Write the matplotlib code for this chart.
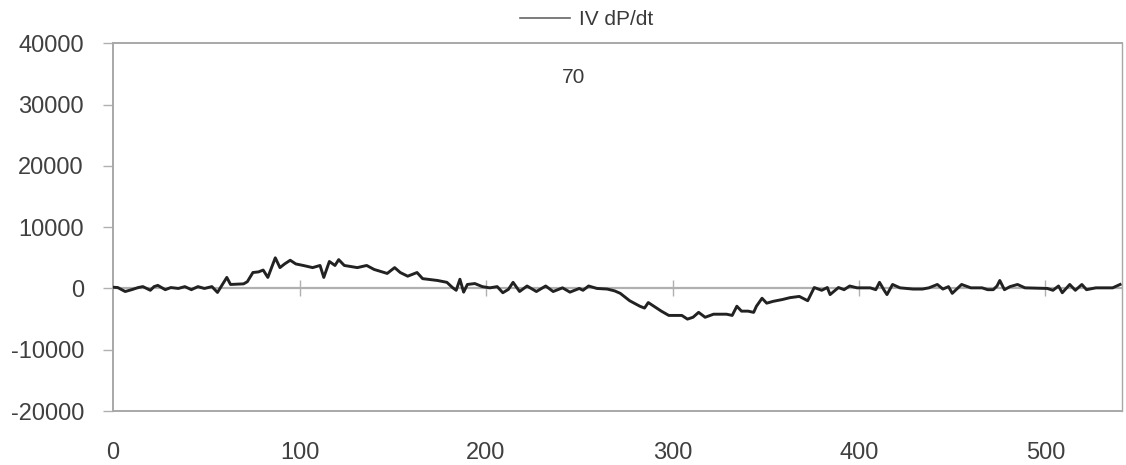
import numpy as np
import matplotlib
matplotlib.use("Agg")
import matplotlib.pyplot as plt

# Sample index and IV dP/dt values
x_vals = [0, 2.5, 6.5, 10, 13.5, 16, 20, 22, 24, 28, 31, 35, 38.5, 42, 45.5, 49, 53, 56,
          61, 63, 70, 72, 75, 78, 80.5, 83, 87, 89.5, 92, 95, 98, 102, 107, 111, 113, 116,
          119, 121, 124, 131, 136, 140, 147, 151, 154, 158, 163, 166, 174, 179, 182, 184,
          186, 188, 190, 194, 198, 202, 206, 209, 212, 214.5, 218, 222, 227, 232, 236, 241,
          245, 250, 252, 255, 259.5, 265, 269, 272, 277, 282.5, 285, 287, 290, 294, 298,
          305, 308, 311, 314, 317.5, 322, 329, 332, 334.5, 337, 340.5, 343.5, 345, 348,
          350.5, 354, 359, 363, 368, 372.5, 376, 380, 383, 384.5, 389, 392, 395, 399, 406,
          409, 411, 413.5, 415, 418, 422, 429, 434, 437.5, 442, 445, 448, 450, 455, 460,
          466, 469, 472, 474, 475.5, 478, 481, 485, 489, 501, 504, 507, 509, 513, 516,
          519.5, 522, 527, 532, 536, 540]
y_vals = [200, 150, -500, -200, 150, 300, -300, 300, 500, -200, 150, 0, 300, -200, 300, 0, 300, -650,
          1800, 650, 750, 1100, 2600, 2700, 3000, 1800, 5000, 3400, 4000, 4600, 4000, 3750, 3400, 3750, 1800, 4400,
          3750, 4700, 3750, 3400, 3750, 3100, 2450, 3400, 2600, 2000, 2600, 1600, 1300, 1000, 150, -300,
          1500, -600, 650, 800, 300, 100, 300, -700, -150, 1000, -500, 400, -500, 400, -500, 100,
          -600, 0, -300, 400, 0, -100, -400, -800, -2000, -2900, -3200, -2300, -2900, -3700, -4400,
          -4400, -5000, -4700, -3900, -4700, -4200, -4200, -4400, -2900, -3700, -3700, -3900, -2900, -1600,
          -2400, -2100, -1800, -1500, -1300, -2000, 150, -300, 150, -1000, 150, -200, 400, 100, 100,
          -200, 1000, -300, -1000, 650, 100, -100, -100, 100, 650, -100, 300, -800, 650, 100,
          100, -200, -200, 400, 1300, -200, 300, 650, 100, 0, -300, 400, -700, 650, -300,
          650, -200, 100, 100, 100, 650]

x_ticks = [0, 100, 200, 300, 400, 500]
y_ticks = [-20000, -10000, 0, 10000, 20000, 30000, 40000]
series_name = "IV dP/dt"
note = "70"

plt.rcParams['font.family'] = ['Liberation Sans', 'DejaVu Sans']
plt.rcParams['axes.unicode_minus'] = False

fig = plt.figure(figsize=(11.26, 4.65), dpi=100)
ax = fig.add_axes([0.1004, 0.116, 0.896, 0.791])

ax.plot(x_vals, y_vals, color="#222222", lw=2.1, label=series_name, zorder=3)

# horizontal axis line crossing at zero, with its own tick marks
ax.axhline(0, color="#b0b0b0", lw=1.6, zorder=1)
ax.plot(x_ticks[1:], [0] * (len(x_ticks) - 1), linestyle="none", marker="|",
        markersize=12, markeredgewidth=1.0, color="#b0b0b0", zorder=1)

ax.set_xlim(0, 541)
ax.set_ylim(-20000, 40000)
ax.set_xticks(x_ticks)
ax.set_yticks(y_ticks)
ax.tick_params(axis="x", length=0, pad=22, labelsize=17, labelcolor="#404040")
ax.tick_params(axis="y", length=7, width=1, color="#b0b0b0", pad=14, labelsize=17, labelcolor="#404040")

for side in ["left", "right", "top", "bottom"]:
    ax.spines[side].set_color("#a8a8a8")
    ax.spines[side].set_linewidth(1.4)
ax.spines["right"].set_linewidth(1.0)

ax.text(247, 34400, note, fontsize=15, color="#3a3a3a", ha="center", va="center")

leg = ax.legend(loc="center", bbox_to_anchor=(0.521, 0.957), bbox_transform=fig.transFigure,
                frameon=False, fontsize=15, handlelength=2.4, handletextpad=0.4)
leg.get_lines()[0].set_color("#666666")
leg.get_lines()[0].set_linewidth(1.2)
for t in leg.get_texts():
    t.set_color("#3a3a3a")

fig.savefig("out.png", dpi=100)
